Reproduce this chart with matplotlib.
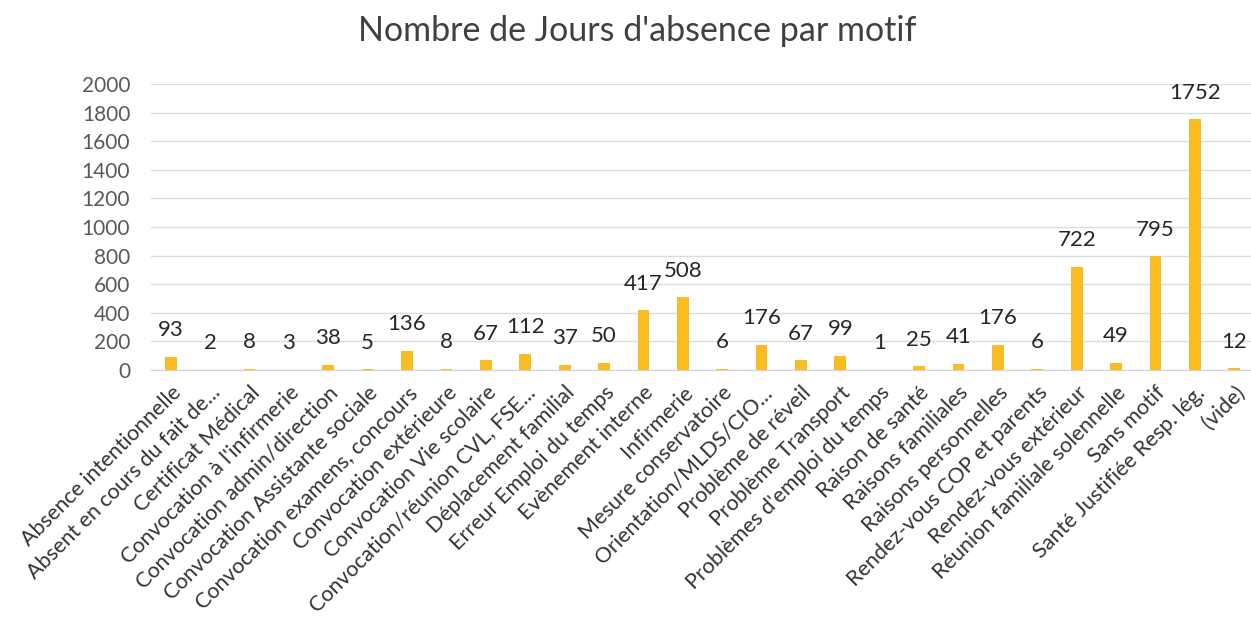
import matplotlib.pyplot as plt

plt.rcParams['font.family'] = ['Lato', 'DejaVu Sans']

motifs = [
    "Absence intentionnelle", "Absent en cours du fait de...", "Certificat Médical",
    "Convocation à l'infirmerie", "Convocation admin/direction",
    "Convocation Assistante sociale", "Convocation examens, concours",
    "Convocation extérieure", "Convocation Vie scolaire",
    "Convocation/réunion CVL, FSE...", "Déplacement familial",
    "Erreur Emploi du temps", "Evènement interne", "Infirmerie",
    "Mesure conservatoire", "Orientation/MLDS/CIO...", "Problème de réveil",
    "Problème Transport", "Problèmes d'emploi du temps", "Raison de santé",
    "Raisons familiales", "Raisons personnelles", "Rendez-vous COP et parents",
    "Rendez-vous extérieur", "Réunion familiale solennelle", "Sans motif",
    "Santé Justifiée Resp. lég.", "(vide)",
]
jours = [93, 2, 8, 3, 38, 5, 136, 8, 67, 112, 37, 50, 417, 508, 6, 176, 67, 99,
         1, 25, 41, 176, 6, 722, 49, 795, 1752, 12]
yticks = list(range(0, 2001, 200))

fig = plt.figure(figsize=(12.51, 6.21), dpi=100)
ax = fig.add_axes([151 / 1251, 1 - 370 / 621, 1103 / 1251, 286 / 621])

x = range(len(motifs))
ax.bar(x, jours, width=0.3, color='#F9BC22', zorder=3)

for xi, v in zip(x, jours):
    ax.annotate(str(v), (xi, v), xytext=(0, 12), textcoords='offset points',
                ha='center', va='bottom', fontsize=16, color='#262626')

ax.set_xlim(-0.5, len(motifs) - 0.5)
ax.set_ylim(0, 2000)
ax.set_yticks(yticks)
ax.tick_params(axis='y', length=0, pad=15, labelsize=15, labelcolor='#595959')
ax.set_xticks(list(x))
ax.set_xticklabels(motifs, rotation=45, ha='right', rotation_mode='anchor',
                   fontsize=15.5, color='#333333')
ax.tick_params(axis='x', length=0, pad=9)
ax.grid(axis='y', color='#D9DCE6', linewidth=1, zorder=0)
for s in ['top', 'right', 'left']:
    ax.spines[s].set_visible(False)
ax.spines['bottom'].set_color('#D0D3DC')

fig.text(637 / 1251, 1 - 31 / 621, "Nombre de Jours d'absence par motif",
         ha='center', va='center', fontsize=24.5, color='#404040')

fig.savefig('out.png', dpi=100)
